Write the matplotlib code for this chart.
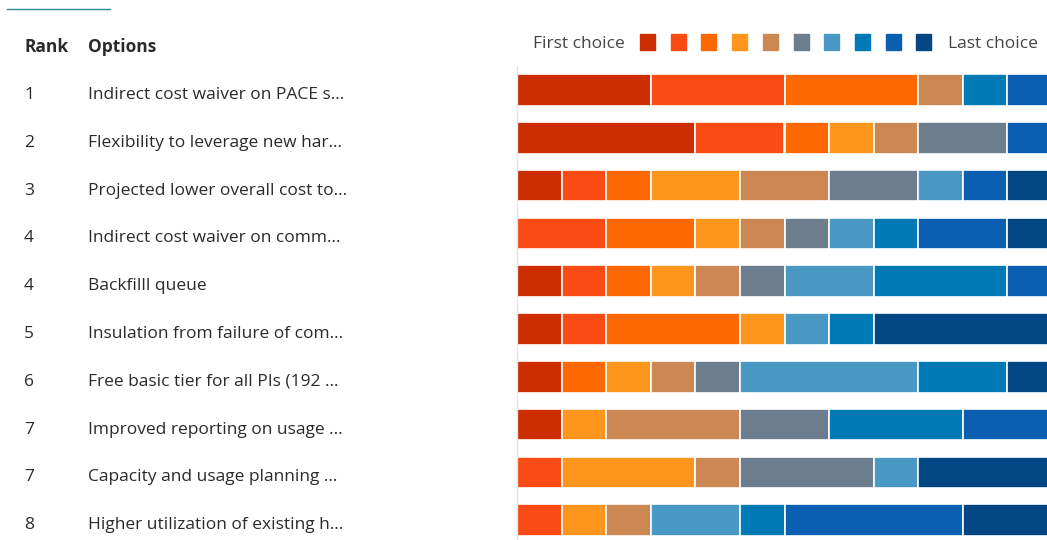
import numpy as np
from matplotlib import pyplot as plt
from matplotlib.patches import Rectangle
from matplotlib.lines import Line2D

plt.rcParams['font.family'] = ['Open Sans', 'DejaVu Sans']

ranks = ["1", "2", "3", "4", "4", "5", "6", "7", "7", "8"]
options = [
    "Indirect cost waiver on PACE s...",
    "Flexibility to leverage new har...",
    "Projected lower overall cost to...",
    "Indirect cost waiver on comm...",
    "Backfilll queue",
    "Insulation from failure of com...",
    "Free basic tier for all PIs (192 ...",
    "Improved reporting on usage ...",
    "Capacity and usage planning ...",
    "Higher utilization of existing h...",
]

# number of votes per choice position (first .. last) for each option above
choice1 = [3, 4, 1, 0, 1, 1, 1, 1, 0, 0]
choice2 = [3, 2, 1, 2, 1, 1, 0, 0, 1, 1]
choice3 = [3, 1, 1, 2, 1, 3, 1, 0, 0, 0]
choice4 = [0, 1, 2, 1, 1, 1, 1, 1, 3, 1]
choice5 = [1, 1, 2, 1, 1, 0, 1, 3, 1, 1]
choice6 = [0, 2, 2, 1, 1, 0, 1, 2, 3, 0]
choice7 = [0, 0, 1, 1, 2, 1, 4, 0, 1, 2]
choice8 = [1, 0, 0, 1, 3, 1, 2, 3, 0, 1]
choice9 = [1, 1, 1, 2, 1, 0, 0, 2, 0, 4]
choice10 = [0, 0, 1, 1, 0, 4, 1, 0, 3, 2]
choices = [choice1, choice2, choice3, choice4, choice5,
           choice6, choice7, choice8, choice9, choice10]

colors = ['#cc2e00', '#fb4b14', '#fd6800', '#fe961e', '#cc8753',
          '#6c7e8e', '#4a99c5', '#007ab7', '#0b5fb0', '#024784']

W, H = 1047, 540
fig = plt.figure(figsize=(W / 100, H / 100), dpi=100)

# bars axes (runs a bit past the right edge, like the original)
ax_left, ax_right = 517, 1052
ax_top, ax_bot = 66, 540
ax = fig.add_axes([ax_left / W, 1 - ax_bot / H, (ax_right - ax_left) / W, (ax_bot - ax_top) / H])

y = np.arange(len(options))
left = np.zeros(len(options))
for vals, c in zip(choices, colors):
    vals = np.array(vals)
    ax.barh(y, vals, left=left, height=0.66, color=c, edgecolor='white', linewidth=1.2)
    left += vals

row0, pitch = 90, 47.8
ax.set_ylim((ax_bot - row0) / pitch, -(row0 - ax_top) / pitch)
ax.set_xlim(0, 12)
ax.set_xticks([])
ax.set_yticks([])
for s in ['top', 'right', 'bottom']:
    ax.spines[s].set_visible(False)
ax.spines['left'].set_color('#e3e3e3')
ax.spines['left'].set_linewidth(1)

# header and row labels
txt = '#2b2a29'
fs = 12.5
fig.text(24 / W, 1 - 47 / H, "Rank", fontsize=fs, fontweight='bold', color=txt, va='center')
fig.text(88 / W, 1 - 47 / H, "Options", fontsize=fs, fontweight='bold', color=txt, va='center')
for i in range(len(options)):
    yy = 1 - (row0 + 5 + i * pitch) / H
    fig.text(24 / W, yy, ranks[i], fontsize=fs, color=txt, va='center')
    fig.text(88 / W, yy, options[i], fontsize=fs, color=txt, va='center')

# legend
leg_y = 42
fig.text(533 / W, 1 - (leg_y + 2) / H, "First choice", fontsize=fs, color='#444444', va='center')
for k, c in enumerate(colors):
    x0 = 640 + k * 30.7
    fig.patches.append(Rectangle((x0 / W, 1 - (leg_y + 7.5) / H), 15 / W, 15 / H,
                                 transform=fig.transFigure, color=c, figure=fig))
fig.text(948 / W, 1 - (leg_y + 2) / H, "Last choice", fontsize=fs, color='#444444', va='center')

# small teal line top-left
fig.lines.append(Line2D([7 / W, 110 / W], [1 - 9 / H, 1 - 9 / H], transform=fig.transFigure,
                        color='#2a8a8a', linewidth=1))

fig.savefig('out.png', dpi=100)
